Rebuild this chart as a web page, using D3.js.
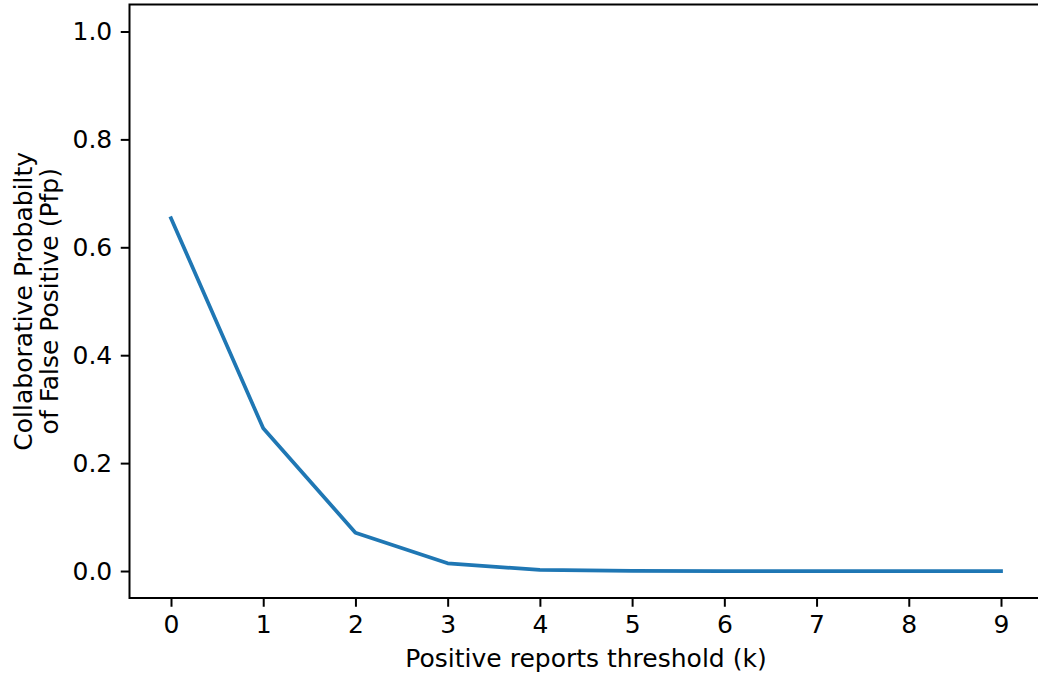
<!DOCTYPE html>
<html>
<head>
<meta charset="utf-8">
<script src="https://cdn.jsdelivr.net/npm/d3@7"></script>
<style>
  html, body { margin: 0; padding: 0; background: #fff; }
  svg { display: block; font-family: "DejaVu Sans", sans-serif; }
</style>
</head>
<body>
<svg id="chart" width="1038" height="677"></svg>
<script>
const thresholds = [0, 1, 2, 3, 4, 5, 6, 7, 8, 9];
const pfp = [0.654, 0.2645, 0.071, 0.0143, 0.002, 0.0003, 0.0, 0.0, 0.0, 0.0];
const yTicks = [0.0, 0.2, 0.4, 0.6, 0.8, 1.0];
const xLabel = "Positive reports threshold (k)";
const yLabelLines = ["Collaborative Probabilty", "of False Positive (Pfp)"];

const svg = d3.select("#chart");
const plotLeft = 129.5, plotRight = 1042.5, plotTop = 4.5, plotBottom = 598;

const x = d3.scaleLinear().domain([-0.45, 9.45]).range([plotLeft, plotRight]);
const y = d3.scaleLinear().domain([-0.05, 1.05]).range([plotBottom, plotTop]);

const fs = 25;
const tickLen = 8.75;

// line
const line = d3.line().x((d, i) => x(thresholds[i])).y(d => y(d));
svg.append("path")
  .datum(pfp)
  .attr("d", line)
  .attr("fill", "none")
  .attr("stroke", "#1f77b4")
  .attr("stroke-width", 3.75)
  .attr("stroke-linejoin", "round")
  .attr("stroke-linecap", "square");

// axes
const xAxis = d3.axisBottom(x).tickValues(thresholds).tickFormat(d3.format("d"))
  .tickSizeInner(tickLen).tickSizeOuter(0).tickPadding(8.5);
const gx = svg.append("g").attr("transform", `translate(0,${plotBottom})`).call(xAxis);
const yAxis = d3.axisLeft(y).tickValues(yTicks).tickFormat(d3.format(".1f"))
  .tickSizeInner(tickLen).tickSizeOuter(0).tickPadding(8.5);
const gy = svg.append("g").attr("transform", `translate(${plotLeft},0)`).call(yAxis);

[gx, gy].forEach(g => {
  g.select(".domain").remove();
  g.selectAll(".tick line").attr("stroke", "#000").attr("stroke-width", 2);
  g.selectAll(".tick text").attr("fill", "#000").attr("font-size", fs)
    .attr("font-family", "DejaVu Sans, sans-serif");
});

// frame
svg.append("rect")
  .attr("x", plotLeft).attr("y", plotTop)
  .attr("width", plotRight - plotLeft).attr("height", plotBottom - plotTop)
  .attr("fill", "none").attr("stroke", "#000").attr("stroke-width", 2);

// x label
svg.append("text")
  .attr("x", (x(0) + x(9)) / 2)
  .attr("y", 667)
  .attr("text-anchor", "middle")
  .attr("font-size", fs)
  .attr("fill", "#000")
  .text(xLabel);

// y label
const yl = svg.append("text")
  .attr("transform", `translate(32,${(plotTop + plotBottom) / 2}) rotate(-90)`)
  .attr("text-anchor", "middle")
  .attr("font-size", fs)
  .attr("fill", "#000");
yLabelLines.forEach((t, i) => {
  yl.append("tspan").attr("x", 0).attr("dy", i === 0 ? 0 : 26).text(t);
});
</script>
</body>
</html>
